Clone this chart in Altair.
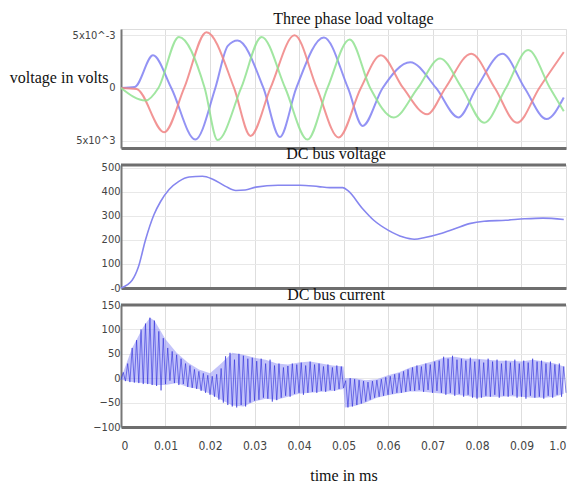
import altair as alt
import pandas as pd

# ---------------- data ----------------
x_ticks = [0, 0.01, 0.02, 0.03, 0.04, 0.05, 0.06, 0.07, 0.08, 0.09, 0.1]

# Three phase load voltage (values in units of 1e-3)
t_blue = [0, 0.0031, 0.0072, 0.0113, 0.0167, 0.0212, 0.0240, 0.0262, 0.0320, 0.0357, 0.0394,
          0.0456, 0.0510, 0.0543, 0.0588, 0.0650, 0.0708, 0.0758, 0.0799, 0.0857, 0.0907,
          0.0956, 0.0995]
v_blue = [0, 0.1, 3.1, 0, -4.9, 0, 4.0, 4.5, 0, -4.65, 0,
          4.8, 0, -3.6, 0, 2.45, 0, -2.8, 0, 3.25, 0,
          -2.95, -0.9]

t_red = [0, 0.0035, 0.0097, 0.0142, 0.0192, 0.0254, 0.0291, 0.0336, 0.0390, 0.0440, 0.0489,
         0.0539, 0.0584, 0.0634, 0.0688, 0.0729, 0.0787, 0.0840, 0.0890, 0.0940, 0.0995]
v_red = [0, -0.1, -4.2, 0, 5.3, 0, -4.55, 0, 5.0, 0, -4.7,
         0, 3.1, 0, -2.5, 0, 3.25, 0, -3.3, 0, 3.4]

t_green = [0, 0.0055, 0.0084, 0.0130, 0.0188, 0.0217, 0.0270, 0.0316, 0.0369, 0.0419, 0.0464,
           0.0514, 0.0560, 0.0613, 0.0667, 0.0717, 0.0766, 0.0816, 0.0865, 0.0915, 0.0964, 0.0995]
v_green = [0, -1.2, 0, 4.85, 0, -4.95, 0, 4.85, 0, -4.9, 0,
           4.6, 0, -2.8, 0, 2.8, 0, -3.3, 0, 3.6, 0, -2.2]

phase_names = ["phase a", "phase b", "phase c"]
phase_colors = ["#8080f2", "#f08282", "#90e290"]

# DC bus voltage
t_dc = [0, 0.0025, 0.0039, 0.0055, 0.0074, 0.0089, 0.0108, 0.0130, 0.0153, 0.0183, 0.0205,
        0.0235, 0.0258, 0.0279, 0.0303, 0.0353, 0.0402, 0.0444, 0.0469, 0.0498, 0.0510,
        0.0543, 0.0568, 0.0601, 0.0634, 0.0659, 0.0683, 0.0717, 0.0750, 0.0783, 0.0816,
        0.0865, 0.0907, 0.0948, 0.0995]
v_dc = [0, 32, 87, 200, 305, 360, 410, 444, 462, 465, 454,
        423, 406, 408, 420, 428, 428, 422, 418, 418, 405,
        330, 282, 240, 212, 203, 210, 226, 247, 268, 278,
        282, 288, 291, 285]

# DC bus current: envelope of the band
t_env = [0, 0.0025, 0.005, 0.0065, 0.0075, 0.01, 0.0125, 0.015, 0.0175, 0.02, 0.0225,
         0.025, 0.0275, 0.03, 0.0325, 0.035, 0.0375, 0.04, 0.0425, 0.045, 0.0475,
         0.0500, 0.0503, 0.0525, 0.055, 0.0575, 0.06, 0.0625, 0.065, 0.0675, 0.07,
         0.0725, 0.075, 0.0775, 0.08, 0.0825, 0.085, 0.0875, 0.09, 0.0925, 0.095, 0.0975, 0.0995]
i_hi = [0, 62, 105, 124, 118, 80, 52, 32, 18, 10, 30,
        52, 48, 42, 38, 30, 28, 32, 34, 30, 26,
        24, 0, 0, -4, -2, 6, 12, 22, 28, 34,
        42, 44, 40, 40, 38, 36, 36, 34, 38, 34, 30, 24]
i_lo = [-3, -8, -10, -12, -14, -14, -10, -18, -22, -32, -44,
        -56, -58, -48, -42, -44, -38, -32, -30, -28, -26,
        -22, -60, -57, -50, -40, -35, -31, -27, -27, -30,
        -32, -34, -36, -40, -38, -38, -37, -38, -40, -40, -38, -32]

# DC bus current: successive oscillation extremes, one every 0.0005 s
i_dc = [-3, 12, -6, 30, -8, 62, -9, 78, -10, 100,
        -12, 112, -12, 124, -14, 118, -16, 96, -25, 82,
        -12, 62, -5, 55, -10, 48, -14, 40, -12, 30,
        -18, 26, -20, 18, -22, 14, -26, 10, -30, 6,
        -34, 4, -38, 8, -44, 20, -50, 45, -55, 52,
        -58, 38, -60, 50, -55, 46, -58, 40, -50, 42,
        -46, 35, -44, 40, -40, 30, -42, 38, -48, 26,
        -45, 30, -40, 22, -36, 25, -38, 30, -32, 28,
        -30, 32, -34, 26, -30, 34, -28, 28, -30, 30,
        -26, 24, -28, 28, -24, 22, -26, 26, -22, 24,
        -20, -5, -60, 0, -58, -2, -55, -4, -52, -6,
        -48, -8, -44, -6, -40, -4, -38, -2, -36, 2,
        -34, 4, -32, 8, -30, 10, -30, 14, -28, 18,
        -26, 22, -26, 26, -24, 24, -28, 30, -24, 28,
        -30, 34, -26, 36, -30, 44, -34, 40, -30, 46,
        -36, 38, -32, 40, -38, 36, -34, 42, -40, 34,
        -42, 38, -40, 32, -36, 40, -38, 34, -34, 38,
        -40, 30, -36, 36, -38, 32, -34, 38, -40, 30,
        -38, 36, -42, 32, -36, 40, -40, 34, -38, 36,
        -42, 30, -36, 34, -40, 28, -34, 30, -38, 24, -30]
t_i = [k * 0.0005 for k in range(len(i_dc))]

# ---------------- tables ----------------
phase_df = pd.concat([
    pd.DataFrame({"t": t_blue, "v": v_blue, "phase": phase_names[0]}),
    pd.DataFrame({"t": t_red, "v": v_red, "phase": phase_names[1]}),
    pd.DataFrame({"t": t_green, "v": v_green, "phase": phase_names[2]}),
])
dcv_df = pd.DataFrame({"t": t_dc, "v": v_dc})
dci_df = pd.DataFrame({"t": t_i, "v": i_dc})
env_df = pd.DataFrame({"t": t_env, "hi": i_hi, "lo": i_lo})
one_df = pd.DataFrame({"k": [0]})

# ---------------- styling ----------------
W = 445
H1, H2, H3 = 119, 123, 122
narrow = "Liberation Sans Narrow, Arial Narrow, DejaVu Sans Condensed, sans-serif"
serif = "Liberation Serif, Times New Roman, serif"
bar_col = "#6e6e6e"
grid_col = "#dedede"

x_scale = alt.Scale(domain=[0, 0.1], nice=False, zero=False)


def x_axis_hidden():
    return alt.Axis(values=x_ticks, labels=False, ticks=False, domainWidth=3,
                    domainColor=bar_col, grid=True, gridColor=grid_col, title=None)


def y_axis(vals, expr, pad):
    return alt.Axis(values=vals, labelExpr=expr, labelFont=narrow, labelFontSize=11,
                    labelColor="#444", labelPadding=pad, ticks=False, domainColor="#777",
                    domainWidth=2, grid=True, gridColor="#e8e8e8", title=None,
                    labelOverlap=False)


def top_bar():
    return alt.Chart(one_df).mark_rule(color=bar_col, strokeWidth=3).encode(
        x=alt.value(0), x2=alt.value(W), y=alt.value(0))


def ptitle(text, dx, offset):
    return alt.TitleParams(text=text, font=serif, fontSize=16, fontWeight="normal",
                           color="#111", anchor="middle", frame="group", dx=dx, offset=offset)


p1_axis = alt.Axis(values=[-5, 0, 5],
                   labelExpr="datum.value > 0 ? '5x10^-3' : (datum.value < 0 ? '5x10^3' : '0')",
                   labelFont=narrow, labelFontSize=11, labelColor="#444", labelPadding=6,
                   ticks=False, domainColor="#777", domainWidth=2, grid=True, gridColor="#e8e8e8",
                   title="voltage in volts", titleAngle=0, titleAlign="right", titleBaseline="middle",
                   titleX=-13, titleY=48, titleFont=serif, titleFontSize=16,
                   titleFontWeight="normal", titleColor="#111")

p1 = alt.Chart(phase_df).mark_line(strokeWidth=2, opacity=0.85, interpolate="monotone").encode(
    x=alt.X("t:Q", scale=x_scale, axis=x_axis_hidden()),
    y=alt.Y("v:Q", scale=alt.Scale(domain=[-5.7, 5.6], nice=False, zero=False), axis=p1_axis),
    color=alt.Color("phase:N", scale=alt.Scale(domain=phase_names, range=phase_colors), legend=None),
    detail="phase:N",
).properties(width=W, height=H1, title=ptitle("Three phase load voltage", 10, 1))

p2_line = alt.Chart(dcv_df).mark_line(strokeWidth=1.6, color="#8686ef", interpolate="monotone").encode(
    x=alt.X("t:Q", scale=x_scale, axis=x_axis_hidden()),
    y=alt.Y("v:Q", scale=alt.Scale(domain=[0, 512], nice=False, zero=False),
            axis=y_axis([0, 100, 200, 300, 400, 500], "datum.value == 0 ? '-0' : datum.label", 1)),
)
p2 = alt.layer(p2_line, top_bar()).properties(width=W, height=H2,
                                              title=ptitle("DC bus voltage", -7.5, 0))

y3_scale = alt.Scale(domain=[-100, 150], nice=False, zero=False)


def x3_axis():
    return alt.Axis(values=x_ticks,
                    labelExpr="datum.value == 0 ? '0' : (datum.value > 0.0999 ? '1.0' : format(datum.value, '.2f'))",
                    labelFont=narrow, labelFontSize=12, labelColor="#444", labelPadding=13,
                    ticks=False, domainWidth=3, domainColor=bar_col, grid=True,
                    gridColor=grid_col, title="time in ms", titleFont=serif,
                    titleFontSize=16, titleFontWeight="normal", titleColor="#111",
                    titlePadding=16, labelOverlap=False)


def y3_axis():
    return y_axis([-100, -50, 0, 50, 100, 150], "datum.label", 1)


p3_band = alt.Chart(env_df).mark_area(color="#7a7af5", opacity=0.45).encode(
    x=alt.X("t:Q", scale=x_scale, axis=x3_axis()),
    y=alt.Y("hi:Q", scale=y3_scale, axis=y3_axis()),
    y2="lo:Q",
)
p3_line = alt.Chart(dci_df).mark_line(strokeWidth=0.7, color="#2323d8", opacity=0.8).encode(
    x=alt.X("t:Q", scale=x_scale, axis=x3_axis()),
    y=alt.Y("v:Q", scale=y3_scale, axis=y3_axis()),
)
p3 = alt.layer(p3_band, p3_line, top_bar()).properties(width=W, height=H3,
                                                       title=ptitle("DC bus current", -7.5, -4))

chart = alt.vconcat(p1, p2, p3, spacing=17, bounds="flush").properties(
    padding={"left": 0, "top": 2, "right": 0, "bottom": 0},
    autosize=alt.AutoSizeParams(type="pad")
).configure_view(stroke=None).configure(background="white")

chart.save("out.html", embed_options={"renderer": "svg", "actions": False})
